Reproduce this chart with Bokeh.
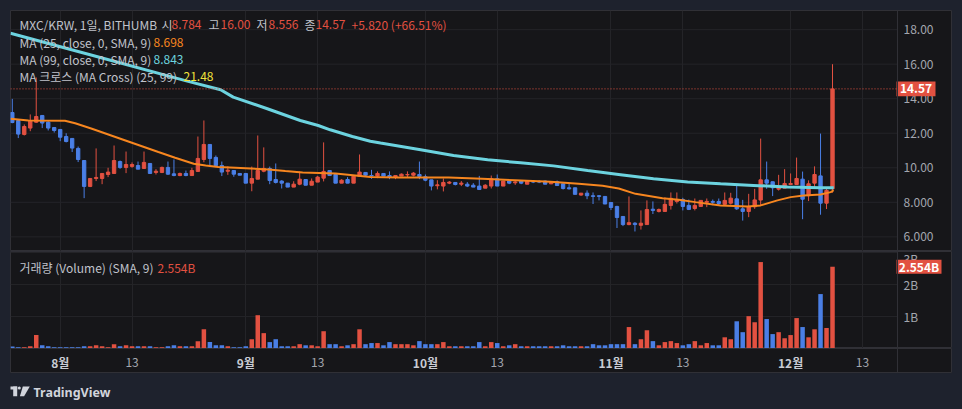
import pandas as pd
from bokeh.plotting import figure
from bokeh.layouts import column
from bokeh.models import ColumnDataSource, Range1d, FixedTicker, Label, Span, Grid
from bokeh.embed import file_html
from bokeh.resources import INLINE
from bokeh.core.properties import value

# ---------------- data ----------------
dates = pd.date_range("2024-07-24", "2024-12-08", freq="D")

opens = [13.20, 12.74, 11.93, 12.30, 12.64, 13.03, 12.64, 12.33,
         12.22, 11.81, 11.70, 11.12, 10.42, 8.92, 9.38, 9.38, 9.61, 9.67, 10.36, 10.02,
         10.08, 10.13, 9.96, 10.25, 9.73, 9.73, 10.02, 9.65, 9.55, 9.67, 9.55, 9.79,
         10.48, 11.35, 10.60, 10.13, 9.80, 9.84, 9.67,
         9.67, 9.11, 9.34, 9.80, 9.96, 9.32, 9.23, 9.11, 8.88, 9.05, 9.32, 8.99, 9.17,
         9.40, 9.84, 9.61, 9.11, 9.32, 9.11, 9.51, 9.73, 9.55, 9.52, 9.67, 9.55, 9.46,
         9.52, 9.59, 9.57, 9.61,
         9.48, 9.30, 8.96, 8.94, 9.11, 9.15, 9.05, 9.05, 8.99, 8.94, 8.82, 8.94, 9.36,
         8.94, 9.23, 9.13, 9.23, 9.05, 9.23, 9.21, 9.23, 9.07, 9.19, 9.07, 8.84, 8.84,
         8.42, 8.53, 8.38, 8.38, 8.34,
         7.99, 7.76, 7.18, 6.71, 6.79, 6.67, 6.71, 7.60, 7.47, 7.47, 7.82, 8.05, 8.16,
         7.82, 7.64, 7.76, 8.00, 8.05, 8.05, 7.88, 7.95, 8.20, 7.62, 7.47, 7.74, 8.13,
         9.30, 9.19, 8.76, 8.82,
         9.03, 9.03, 9.34, 8.38, 9.11, 9.53, 7.95, 8.784]
highs = [13.99, 12.78, 12.51, 13.09, 15.23, 13.03, 12.70, 12.33,
         12.22, 12.00, 11.70, 11.23, 10.42, 9.38, 11.12, 9.67, 10.00, 11.29, 10.42, 10.94,
         10.31, 10.36, 10.94, 10.25, 9.92, 10.07, 10.36, 10.48, 9.72, 9.84, 10.00, 11.81,
         12.74, 11.35, 10.71, 10.36, 10.08, 9.84, 9.67,
         9.67, 10.07, 11.87, 11.18, 10.07, 10.25, 9.28, 9.11, 9.22, 9.78, 9.32, 9.38, 9.53,
         11.47, 9.84, 9.61, 9.34, 9.46, 9.51, 10.77, 9.73, 9.88, 9.79, 9.67, 9.79, 9.55,
         9.67, 9.79, 9.75, 10.36,
         9.61, 9.30, 9.28, 9.38, 9.23, 9.15, 9.23, 9.17, 9.11, 9.53, 9.05, 9.55, 9.61,
         9.23, 9.28, 9.28, 9.28, 9.23, 9.28, 9.28, 9.26, 9.17, 9.26, 9.07, 9.07, 8.84,
         8.53, 8.69, 8.57, 8.42, 8.34,
         7.99, 7.80, 7.18, 8.34, 6.85, 7.53, 8.11, 8.05, 7.64, 8.28, 8.57, 8.57, 8.26,
         8.16, 8.22, 8.11, 8.22, 8.16, 8.22, 8.57, 8.55, 9.07, 8.14, 8.49, 8.78, 11.69,
         10.36, 9.19, 9.59, 9.92,
         9.67, 10.59, 9.78, 9.27, 10.08, 11.98, 8.88, 16.00]
lows = [12.58, 11.72, 11.87, 12.12, 12.60, 12.30, 12.16, 12.04,
        11.54, 11.47, 10.91, 10.33, 8.24, 8.88, 9.23, 9.05, 9.46, 9.67, 9.94, 9.69,
        10.00, 9.92, 9.96, 9.67, 9.61, 9.69, 9.59, 9.51, 9.51, 9.51, 9.55, 9.79,
        10.32, 10.13, 10.04, 9.52, 9.59, 9.48, 9.57,
        9.11, 8.64, 9.34, 9.74, 9.05, 9.09, 8.80, 8.88, 8.88, 8.99, 8.99, 8.99, 9.17,
        9.21, 9.55, 9.11, 9.11, 9.11, 9.11, 9.51, 9.51, 9.36, 9.40, 9.52, 9.34, 9.34,
        9.52, 9.46, 9.50, 9.34,
        9.22, 8.69, 8.75, 8.63, 9.05, 8.98, 8.94, 8.88, 8.88, 8.74, 8.82, 8.80, 8.94,
        8.94, 9.05, 9.01, 9.05, 9.05, 9.11, 9.11, 9.05, 9.05, 8.97, 8.74, 8.74, 8.46,
        8.38, 8.18, 7.90, 8.11, 7.90,
        7.55, 6.51, 6.62, 6.67, 6.31, 6.42, 6.71, 7.32, 7.41, 7.47, 7.58, 7.93, 7.53,
        7.55, 7.53, 7.76, 7.72, 7.83, 7.82, 7.82, 7.87, 7.56, 6.94, 7.14, 7.62, 7.80,
        8.78, 8.36, 8.68, 8.82,
        9.03, 9.03, 7.02, 8.07, 8.87, 7.28, 7.61, 8.556]
closes = [12.62, 11.95, 12.39, 12.70, 12.97, 12.59, 12.30, 12.16,
          11.77, 11.52, 11.14, 10.48, 8.92, 9.38, 9.44, 9.67, 9.75, 10.42, 10.02, 10.19,
          10.19, 9.92, 10.31, 9.67, 9.80, 10.02, 9.63, 9.55, 9.67, 9.55, 9.84, 10.54,
          11.35, 10.54, 10.13, 9.75, 9.86, 9.63, 9.57,
          9.11, 9.38, 9.84, 9.96, 9.26, 9.15, 9.11, 8.88, 9.05, 9.34, 8.99, 9.22, 9.46,
          9.79, 9.55, 9.11, 9.28, 9.11, 9.51, 9.75, 9.57, 9.52, 9.67, 9.52, 9.44, 9.55,
          9.63, 9.61, 9.69, 9.50,
          9.28, 8.94, 9.01, 9.15, 9.17, 9.03, 9.11, 8.94, 8.88, 8.74, 8.99, 9.36, 8.94,
          9.23, 9.11, 9.18, 9.11, 9.23, 9.17, 9.17, 9.05, 9.15, 8.97, 8.80, 8.78, 8.46,
          8.53, 8.38, 8.34, 8.34, 7.90,
          7.70, 7.12, 6.71, 6.82, 6.71, 6.79, 7.58, 7.53, 7.58, 7.88, 8.23, 8.16, 7.76,
          7.59, 7.82, 8.11, 8.05, 8.00, 7.93, 8.11, 8.24, 7.62, 7.47, 7.74, 8.14, 9.30,
          9.11, 8.84, 8.88, 9.09,
          9.09, 9.38, 8.18, 9.07, 9.61, 7.95, 8.69, 14.57]
volumes_b = [0.06, 0.04, 0.04, 0.07, 0.42, 0.10, 0.07, 0.04,
             0.04, 0.04, 0.04, 0.04, 0.07, 0.07, 0.10, 0.07, 0.04, 0.135, 0.07, 0.10,
             0.07, 0.07, 0.07, 0.07, 0.04, 0.04, 0.07, 0.10, 0.07, 0.07, 0.07, 0.23,
             0.60, 0.20, 0.10, 0.10, 0.07, 0.04, 0.04,
             0.07, 0.29, 1.04, 0.48, 0.20, 0.29, 0.07, 0.07, 0.07, 0.135, 0.10, 0.10, 0.07,
             0.54, 0.135, 0.135, 0.07, 0.10, 0.135, 0.60, 0.135, 0.17, 0.17, 0.10, 0.20, 0.135,
             0.135, 0.135, 0.10, 0.23,
             0.135, 0.135, 0.135, 0.20, 0.07, 0.07, 0.07, 0.07, 0.07, 0.20, 0.07, 0.20, 0.17,
             0.07, 0.10, 0.135, 0.07, 0.07, 0.07, 0.07, 0.07, 0.07, 0.07, 0.10, 0.07, 0.07,
             0.07, 0.07, 0.135, 0.10, 0.10,
             0.135, 0.135, 0.135, 0.67, 0.135, 0.29, 0.57, 0.23, 0.10, 0.20, 0.23, 0.17, 0.10,
             0.135, 0.23, 0.10, 0.17, 0.10, 0.10, 0.35, 0.29, 0.85, 0.51, 1.01, 0.82, 2.70,
             0.92, 0.45, 0.51, 0.32,
             0.42, 0.95, 0.67, 0.35, 0.60, 1.70, 0.64, 2.554]

# moving averages (day offset from Aug 1, value)
ma25_days = [-8.3, -5.3, 0.8, 2.5, 5.3, 10.9, 16.4, 19.2, 22.3, 24.3, 26.4, 29.3, 34.8,
             37.6, 40.5, 46.0, 51.8, 56.5, 64.9, 70.5, 76.0, 81.9, 86.6, 90.6, 93.3,
             96.1, 100.6, 103.3, 106.1, 110.3, 114.8, 117.0, 119.8, 122.0, 124.2,
             127.0, 128.7, 129.2]
ma25_vals = [12.84, 12.74, 12.72, 12.58, 12.26, 11.58, 10.91, 10.58, 10.23, 10.13, 10.04,
             10.00, 9.90, 9.81, 9.73, 9.67, 9.46, 9.44, 9.44, 9.36, 9.28, 9.19, 9.07,
             8.96, 8.80, 8.49, 8.24, 8.15, 8.01, 7.82, 7.76, 7.82, 8.11, 8.30, 8.40,
             8.45, 8.59, 8.698]
ma99_days = [-8.3, 6.7, 20.9, 26.8, 28.9, 34.6, 40.1, 43.1, 45.1, 48.8, 51.8, 53.5,
             60.2, 65.7, 71.4, 76.9, 82.4, 88.1, 93.6, 99.1, 104.8, 110.3, 115.8,
             121.5, 127.0, 129.2]
ma99_vals = [17.79, 16.39, 15.05, 14.52, 14.09, 13.42, 12.74, 12.45, 12.20, 11.81, 11.54,
             11.43, 11.04, 10.71, 10.46, 10.29, 10.11, 9.84, 9.60, 9.36, 9.17, 9.07,
             8.98, 8.88, 8.84, 8.843]

tick_dates = ["2024-08-01", "2024-08-13", "2024-09-01", "2024-09-13", "2024-10-01",
              "2024-10-13", "2024-11-01", "2024-11-13", "2024-12-01", "2024-12-13"]
tick_labels = ["8월", "13", "9월", "13", "10월", "13", "11월", "13", "12월", "13"]
price_ticks = [6, 8, 10, 12, 14, 16, 18]
price_tick_labels = ["6.000", "8.000", "10.00", "12.00", "14.00", "16.00", "18.00"]
vol_ticks = [1, 2, 3]
vol_tick_labels = ["1B", "2B", "3B"]

header_title = "MXC/KRW, 1일, BITHUMB"
header_parts = [("시", "8.784"), ("고", "16.00"), ("저", "8.556"), ("종", "14.57")]
header_change = "+5.820 (+66.51%)"
ma25_label, ma25_last = "MA (25, close, 0, SMA, 9)", "8.698"
ma99_label, ma99_last = "MA (99, close, 0, SMA, 9)", "8.843"
cross_label, cross_last = "MA 크로스 (MA Cross) (25, 99)", "21.48"
vol_label, vol_last = "거래량 (Volume) (SMA, 9)", "2.554B"
last_price = 14.57
last_volume = 2.554

# ---------------- style ----------------
NAVY = "#1e222d"
BG = "#161619"
GRID = "#242428"
SEP = "#303036"
UP = "#e25141"
DOWN = "#4a7fe6"
ORANGE = "#f7861f"
CYAN = "#6cd3df"
YELLOW = "#f2e33b"
TXT = "#c0c3cb"
AX = "#a3a6af"
FONT = "Noto Sans CJK KR"

origin = pd.Timestamp("2024-08-01")
xs = [(d - origin).days for d in dates]
ticks = [(pd.Timestamp(t) - origin).days for t in tick_dates]
colors = [UP if c >= o else DOWN for o, c in zip(opens, closes)]

src = ColumnDataSource(dict(
    x=xs, o=opens, h=highs, l=lows, c=closes,
    top=[max(o, c) for o, c in zip(opens, closes)],
    bot=[min(o, c) for o, c in zip(opens, closes)],
    vol=volumes_b, color=colors))

# layout geometry: panel 942 px wide; plot area 887 px, price scale 55 px
PX_PER_DAY = 5.987
X0 = -8.30                       # day at the left edge of the plot area
def px(n):                       # horizontal pixel offset from panel left -> day units
    return X0 + n / PX_PER_DAY
X_SEP = px(887)                  # separator between plot area and price scale
xr = Range1d(X0, px(942))


def base_fig(height, yr):
    f = figure(width=942, height=height, x_range=xr, y_range=yr,
               x_axis_location=None, y_axis_location=None,
               output_backend="svg", toolbar_location=None, min_border=0,
               background_fill_color=BG, border_fill_color=BG,
               outline_line_color=SEP, outline_line_width=1)
    for r in list(f.center):
        if isinstance(r, Grid):
            r.visible = False
    return f


def pane_grid(f, yticks, ylabels, label_y=None):
    f.add_layout(Grid(dimension=0, ticker=FixedTicker(ticks=ticks), grid_line_color=GRID))
    f.segment(x0=[X0] * len(yticks), x1=[X_SEP] * len(yticks), y0=yticks, y1=yticks,
              line_color=GRID, line_width=1)
    f.add_layout(Span(location=X_SEP, dimension="height", line_color=SEP, line_width=1))
    f.text(x=[px(893)] * len(yticks), y=label_y or yticks, text=ylabels,
           text_color=AX, text_font=value(FONT), text_font_size=value("12px"),
           text_baseline=value("middle"), text_align=value("left"))


def tag(f, y, text, width_px, half_h):
    f.quad(left=[px(886)], right=[px(886 + width_px)], top=[y + half_h], bottom=[y - half_h],
           fill_color=UP, line_color=None)
    f.text(x=[px(886 + width_px / 2)], y=[y], text=[text], text_color="white",
           text_font=value(FONT), text_font_size=value("12px"),
           text_font_style=value("bold"),
           text_baseline=value("middle"), text_align=value("center"))


def lab(fig, x, y, text, color, size="12px", bold=False):
    fig.add_layout(Label(x=x, y=y, x_units="screen", y_units="screen", text=text,
                         text_color=color, text_font=FONT, text_font_size=size,
                         text_font_style="bold" if bold else "normal",
                         text_baseline="middle", text_align="left"))

# ---------------- price pane ----------------
p = base_fig(241, Range1d(5.15, 19.11))
pane_grid(p, price_ticks, price_tick_labels)

p.segment(x0="x", y0="l", x1="x", y1="h", line_color="color", line_width=1, source=src)
p.vbar(x="x", width=0.56, top="top", bottom="bot", fill_color="color",
       line_color="color", line_width=1, source=src)
p.line(ma25_days, ma25_vals, line_color=ORANGE, line_width=2)
p.line(ma99_days, ma99_vals, line_color=CYAN, line_width=3)
p.segment(x0=[X0], x1=[X_SEP], y0=[last_price], y1=[last_price], line_color=UP,
          line_dash="1 2", line_width=1)
tag(p, last_price, f"{last_price:.2f}", 39, 7.5 / 17.27)

lab(p, 9, 227, header_title, TXT, size="12px")
pos = [(151, 161), (198, 210), (246, 258), (294, 305)]
for (k, v_), (xk, xv) in zip(header_parts, pos):
    lab(p, xk, 227, k, TXT)
    lab(p, xv, 227, v_, UP)
lab(p, 341, 227, header_change, UP)
lab(p, 9, 209.5, ma25_label, TXT)
lab(p, 143, 209.5, ma25_last, ORANGE)
lab(p, 9, 192.5, ma99_label, TXT)
lab(p, 143, 192.5, ma99_last, CYAN)
lab(p, 9, 175, cross_label, TXT)
lab(p, 173, 175, cross_last, YELLOW)

# ---------------- volume pane ----------------
v = base_fig(97, Range1d(0, 3.03))
# the top scale label sits just inside the pane so it is not cut off
pane_grid(v, vol_ticks, vol_tick_labels, label_y=[1, 2, 2.8])
v.vbar(x="x", width=0.75, top="vol", bottom=0, fill_color="color", line_color=None, source=src)
tag(v, last_volume, vol_last, 45, 7.0 / 32.0)
lab(v, 9, 80.7, vol_label, TXT)
lab(v, 147, 80.7, vol_last, UP)

# ---------------- time axis strip ----------------
a = base_fig(25, Range1d(0, 1))
a.add_layout(Span(location=X_SEP, dimension="height", line_color=SEP, line_width=1))
mon = [(t, l) for t, l in zip(ticks, tick_labels) if l.endswith("월")]
day = [(t, l) for t, l in zip(ticks, tick_labels) if not l.endswith("월")]
a.text(x=[t for t, _ in mon], y=[0.45] * len(mon), text=[l for _, l in mon],
       text_color="#c9ccd4", text_font=value(FONT), text_font_size=value("12px"),
       text_font_style=value("bold"), text_baseline=value("middle"), text_align=value("center"))
a.text(x=[t for t, _ in day], y=[0.45] * len(day), text=[l for _, l in day],
       text_color=AX, text_font=value(FONT), text_font_size=value("12px"),
       text_baseline=value("middle"), text_align=value("center"))

# ---------------- logo strip ----------------
g = figure(width=942, height=34, x_range=Range1d(0, 942), y_range=Range1d(34, 0),
           x_axis_location=None, y_axis_location=None,
           output_backend="svg", toolbar_location=None,
           min_border=0, background_fill_color=NAVY, border_fill_color=NAVY,
           outline_line_color=None)
for r in list(g.center):
    if isinstance(r, Grid):
        r.visible = False
LOGO = "#d1d4dc"
g.quad(left=[-0.7, 2.7], right=[6.7, 6.7], top=[13, 13], bottom=[16, 22.7],
       fill_color=LOGO, line_color=None)
g.circle(x=[8.8], y=[14.5], radius=1.5, fill_color=LOGO, line_color=None)
g.patch(x=[12.3, 19.3, 13.6, 9.4], y=[13, 13, 22.7, 22.7], fill_color=LOGO, line_color=None)
g.add_layout(Label(x=23, y=18.7, x_units="data", y_units="data", text="TradingView",
                   text_color=LOGO, text_font="Noto Sans", text_font_size="12.5px",
                   text_font_style="bold", text_baseline="middle", text_align="left"))

layout = column(p, v, a, g, margin=(10, 0, 0, 10), spacing=0)

html = file_html(layout, INLINE)
html = html.replace("</head>", "<style>html,body{background:#1e222d;}</style></head>", 1)
open("out.html", "w").write(html)
